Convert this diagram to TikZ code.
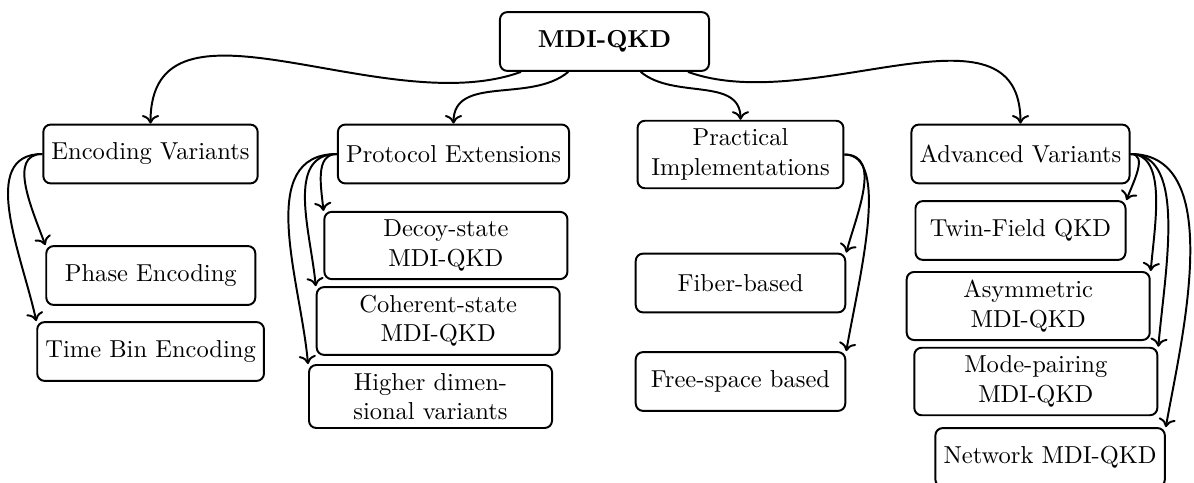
\documentclass[tikz,border=0pt]{standalone}
\usetikzlibrary{arrows.meta}

\tikzset{
  box/.style={draw, thick, rounded corners=3pt, minimum height=24pt,
              inner sep=3.33pt, align=center},
  widebox/.style={box, text width=92.5pt},
  link/.style={thick, -{Computer Modern Rightarrow[length=3.5pt,width=7pt]}},
}

\begin{document}
\begin{tikzpicture}[x=0.408pt, y=0.408pt]
  \useasboundingbox (0,0) rectangle (1194,-483);

  % root
  \node[box, font=\bfseries, minimum width=85.3pt] (root) at (604.5,-41.5) {MDI-QKD};

  % first level
  \node[box] (enc)  at (150.5,-154)  {Encoding Variants};
  \node[box] (prot) at (453.5,-154)  {Protocol Extensions};
  \node[box, minimum width=84pt] (prac) at (740.5,-154.5) {Practical\\Implementations};
  \node[box] (adv)  at (1020.5,-154) {Advanced Variants};

  % encoding variants
  \node[box, minimum width=85.3pt] (phase)   at (150.8,-275.5) {Phase Encoding};
  \node[box]                       (timebin) at (150.6,-351.5) {Time Bin Encoding};

  % protocol extensions
  \node[widebox] (decoy)  at (445.9,-245.5) {Decoy-state\\MDI-QKD};
  \node[widebox] (coher)  at (438.2,-321)   {Coherent-state\\MDI-QKD};
  \node[widebox] (higher) at (430.5,-396.5) {Higher dimen-\\sional variants};

  % practical implementations
  \node[box, minimum width=85.5pt] (fiber) at (740.5,-283)   {Fiber-based};
  \node[box, minimum width=85.5pt] (free)  at (740.5,-381.5) {Free-space based};

  % advanced variants
  \node[box, minimum width=85.7pt] (twin) at (1020.5,-230.5) {Twin-Field QKD};
  \node[widebox] (asym) at (1028.2,-306)   {Asymmetric\\MDI-QKD};
  \node[widebox] (mode) at (1035.8,-381.5) {Mode-pairing\\MDI-QKD};
  \node[box]     (net)  at (1050.1,-457.5) {Network MDI-QKD};

  % root to first level
  \draw[link] (root.200) to[out=200, in=90] (enc.north);
  \draw[link] (root.220) to[out=220, in=90] (prot.north);
  \draw[link] (root.320) to[out=320, in=90] (prac.north);
  \draw[link] (root.340) to[out=340, in=90] (adv.north);

  % encoding variants
  \draw[link] (enc.west) to[out=180, in=110] (phase.north west);
  \draw[link] (enc.west) to[out=180, in=102] (timebin.north west);

  % protocol extensions
  \draw[link] (prot.west) to[out=180, in=95] (decoy.north west);
  \draw[link] (prot.west) to[out=180, in=95] (coher.north west);
  \draw[link] (prot.west) to[out=180, in=95] (higher.north west);

  % practical implementations
  \draw[link] (prac.east) to[out=0, in=75] (fiber.north east);
  \draw[link] (prac.east) to[out=0, in=80, out looseness=0.6] (free.north east);

  % advanced variants
  \draw[link] (adv.east) to[out=0, in=70] (twin.north east);
  \draw[link] (adv.east) to[out=0, in=85, out looseness=0.8] (asym.north east);
  \draw[link] (adv.east) to[out=0, in=85, out looseness=0.75] (mode.north east);
  \draw[link] (adv.east) to[out=0, in=80, out looseness=0.9, in looseness=0.8] (net.north east);
\end{tikzpicture}
\end{document}
